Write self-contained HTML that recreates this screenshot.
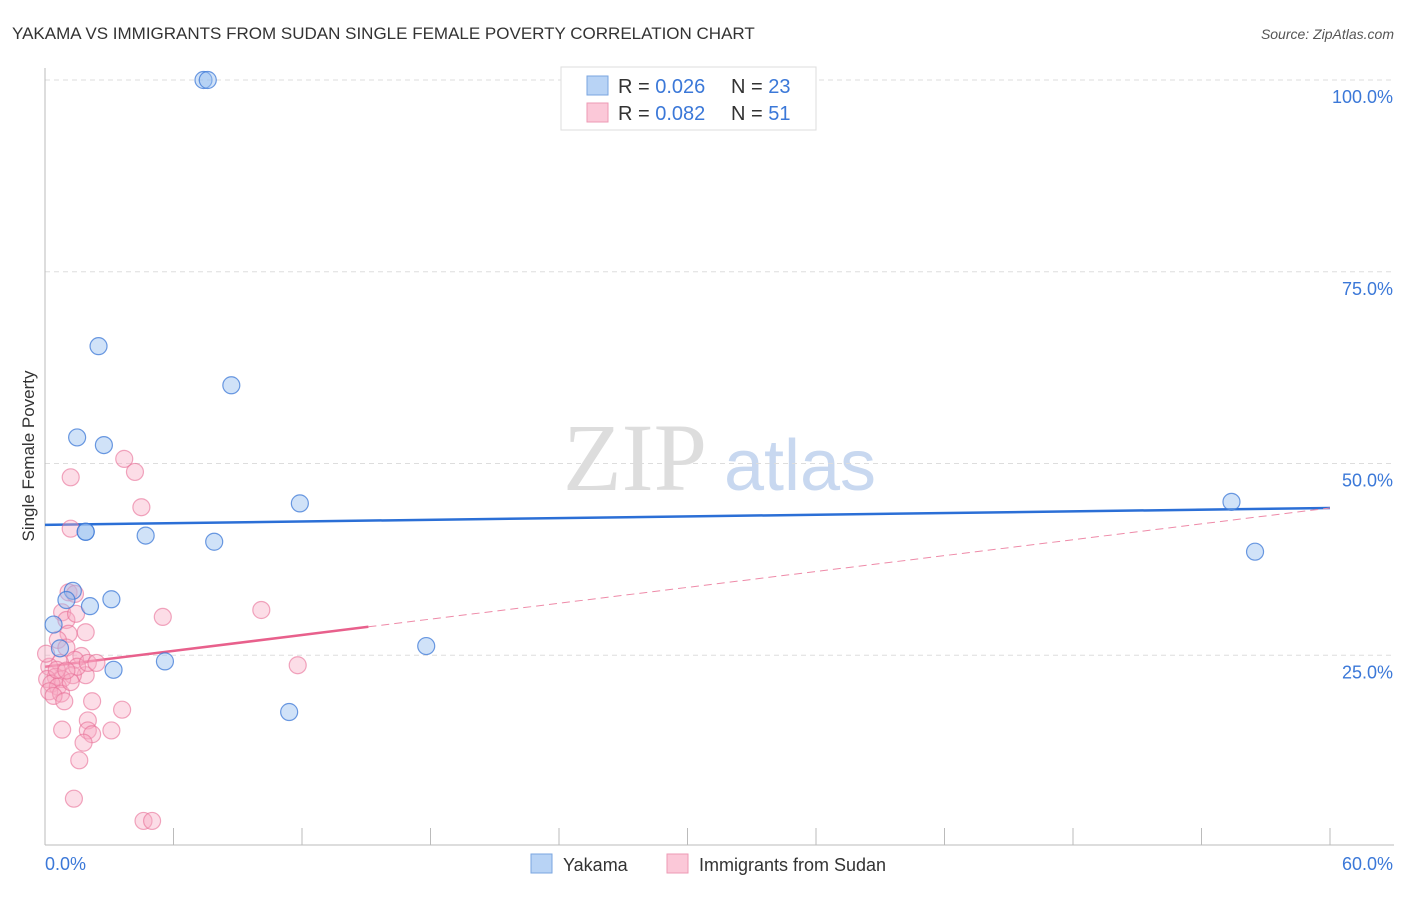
<!DOCTYPE html>
<html><head><meta charset="utf-8"><style>
body{margin:0;background:#fff;font-family:"Liberation Sans",sans-serif;}
</style></head><body>
<svg id="chart" width="1406" height="892" xmlns="http://www.w3.org/2000/svg" font-family="Liberation Sans, sans-serif">
<text x="12" y="39" font-size="17" fill="#333">YAKAMA VS IMMIGRANTS FROM SUDAN SINGLE FEMALE POVERTY CORRELATION CHART</text>
<text x="1394" y="39" font-size="14" fill="#555" text-anchor="end" font-style="italic">Source: ZipAtlas.com</text>
<text transform="translate(34,456) rotate(-90)" font-size="17" fill="#333" text-anchor="middle">Single Female Poverty</text>
<g>
<text x="635" y="490" font-size="96" font-family="Liberation Serif, serif" fill="#ddd" text-anchor="middle">ZIP</text>
<text x="800" y="490" font-size="72" fill="#c8d8f0" text-anchor="middle">atlas</text>
</g>
<g id="grid"></g><g id="axes"></g><g id="lines"></g><g id="pts"></g>
<g>
<rect x="561" y="67" width="255" height="63" fill="#fff" stroke="#ddd"/>
<rect x="587" y="76" width="21" height="19" fill="#b8d3f5" stroke="#7aa6e0"/>
<rect x="587" y="103" width="21" height="19" fill="#fbc8d8" stroke="#ee9ab4"/>
<text x="618" y="93" font-size="20" fill="#333">R = <tspan fill="#3b78d8">0.026</tspan><tspan x="731">N = </tspan><tspan fill="#3b78d8">23</tspan></text>
<text x="618" y="120" font-size="20" fill="#333">R = <tspan fill="#3b78d8">0.082</tspan><tspan x="731">N = </tspan><tspan fill="#3b78d8"> 51</tspan></text>
</g>
<g>
<rect x="531" y="854" width="21" height="19" fill="#b8d3f5" stroke="#7aa6e0"/>
<text x="563" y="871" font-size="18" fill="#333">Yakama</text>
<rect x="667" y="854" width="21" height="19" fill="#fbc8d8" stroke="#ee9ab4"/>
<text x="699" y="871" font-size="18" fill="#333">Immigrants from Sudan</text>
</g>
</svg>
<script>
const yTicks=[25,50,75,100];
const yTickLabels=["25.0%","50.0%","75.0%","100.0%"];
const xLabels=["0.0%","60.0%"];
const blueX=[7.4,7.6,2.5,8.7,1.5,2.75,11.9,1.9,4.7,7.9,55.4,56.5,1.3,1.0,3.1,2.1,0.4,0.7,5.6,3.2,17.8,11.4,1.9];
const blueY=[100,100,65.3,60.2,53.4,52.4,44.8,41.1,40.6,39.8,45.0,38.5,33.4,32.2,32.3,31.4,29.0,25.9,24.2,23.1,26.2,17.6,41.1];
const pinkX=[3.7,4.2,1.2,4.5,1.2,1.1,1.4,0.8,1.0,5.5,10.1,1.9,1.1,0.6,1.0,1.7,1.4,0.7,11.8,0.2,1.9,1.3,0.5,0.1,0.8,0.3,0.6,0.2,0.75,2.2,3.6,0.8,2.0,2.0,2.2,3.1,1.8,1.6,1.35,4.6,5.0,0.05,1.5,2.0,0.55,1.2,1.0,0.4,2.4,1.45,0.9];
const pinkY=[50.6,48.9,48.2,44.3,41.5,33.2,33.0,30.6,29.6,30.0,30.9,28.0,27.8,27.0,26.0,24.9,24.4,24.0,23.7,23.5,22.4,22.4,22.2,21.9,21.9,21.3,20.9,20.3,20.0,19.0,17.9,15.3,16.5,15.2,14.7,15.2,13.6,11.3,6.3,3.4,3.4,25.2,23.5,24.0,23.1,21.5,23.0,19.7,24.0,30.4,19.0];
const blueTrend=[42.0,44.2];
const pinkTrend=[23.5,44.2];
const pinkSolidEnd=15.1;

const X0=45,X1=1330,Y0=847,Y100=80;
const sx=v=>X0+(X1-X0)*v/60;
const sy=v=>Y0-(Y0-Y100)*v/100;
const NS="http://www.w3.org/2000/svg";
function mk(parent,tag,attrs){const e=document.createElementNS(NS,tag);for(const k in attrs)e.setAttribute(k,attrs[k]);document.getElementById(parent).appendChild(e);return e;}
yTicks.forEach((t,i)=>{
  const g=mk('grid','line',{x1:X0,x2:1394,y1:sy(t),y2:sy(t),stroke:'#ddd','stroke-dasharray':'5,4'});
  
  
  const l=mk('grid','text',{x:1393,y:sy(t)+23,'font-size':18,fill:'#3b78d8','text-anchor':'end'});
  l.textContent=yTickLabels[i];
  
  
});
let a=mk('axes','line',{x1:X0,x2:X0,y1:68,y2:845,stroke:'#bbb'});


a=mk('axes','line',{x1:X0,x2:1394,y1:845,y2:845,stroke:'#bbb'});


for(let i=1;i<=10;i++){
  const t=mk('axes','line',{x1:sx(i*6),x2:sx(i*6),y1:828,y2:845,stroke:'#bbb'});
  
  
}
let xl=mk('axes','text',{x:45,y:870,'font-size':18,fill:'#3b78d8'});xl.textContent=xLabels[0];


xl=mk('axes','text',{x:1393,y:870,'font-size':18,fill:'#3b78d8','text-anchor':'end'});xl.textContent=xLabels[1];


let ln=mk('lines','line',{x1:sx(0),y1:sy(blueTrend[0]),x2:sx(60),y2:sy(blueTrend[1]),stroke:'#2b6fd6','stroke-width':2.5});


const pAt=v=>pinkTrend[0]+(pinkTrend[1]-pinkTrend[0])*v/60;
ln=mk('lines','line',{x1:sx(pinkSolidEnd),y1:sy(pAt(pinkSolidEnd)),x2:sx(60),y2:sy(pinkTrend[1]),stroke:'#ee8aa8','stroke-width':1,'stroke-dasharray':'8,5'});


ln=mk('lines','line',{x1:sx(0),y1:sy(pinkTrend[0]),x2:sx(pinkSolidEnd),y2:sy(pAt(pinkSolidEnd)),stroke:'#e8608c','stroke-width':2.5});


pinkX.forEach((x,i)=>{
  const c=mk('pts','circle',{cx:sx(x),cy:sy(pinkY[i]),r:8.5,fill:'rgba(248,170,195,0.4)',stroke:'rgba(232,110,150,0.6)','stroke-width':1.2});
  
  
});
blueX.forEach((x,i)=>{
  const c=mk('pts','circle',{cx:sx(x),cy:sy(blueY[i]),r:8.5,fill:'rgba(150,190,240,0.45)',stroke:'rgba(60,120,215,0.75)','stroke-width':1.2});
  
  
});
</script>
</body></html>
